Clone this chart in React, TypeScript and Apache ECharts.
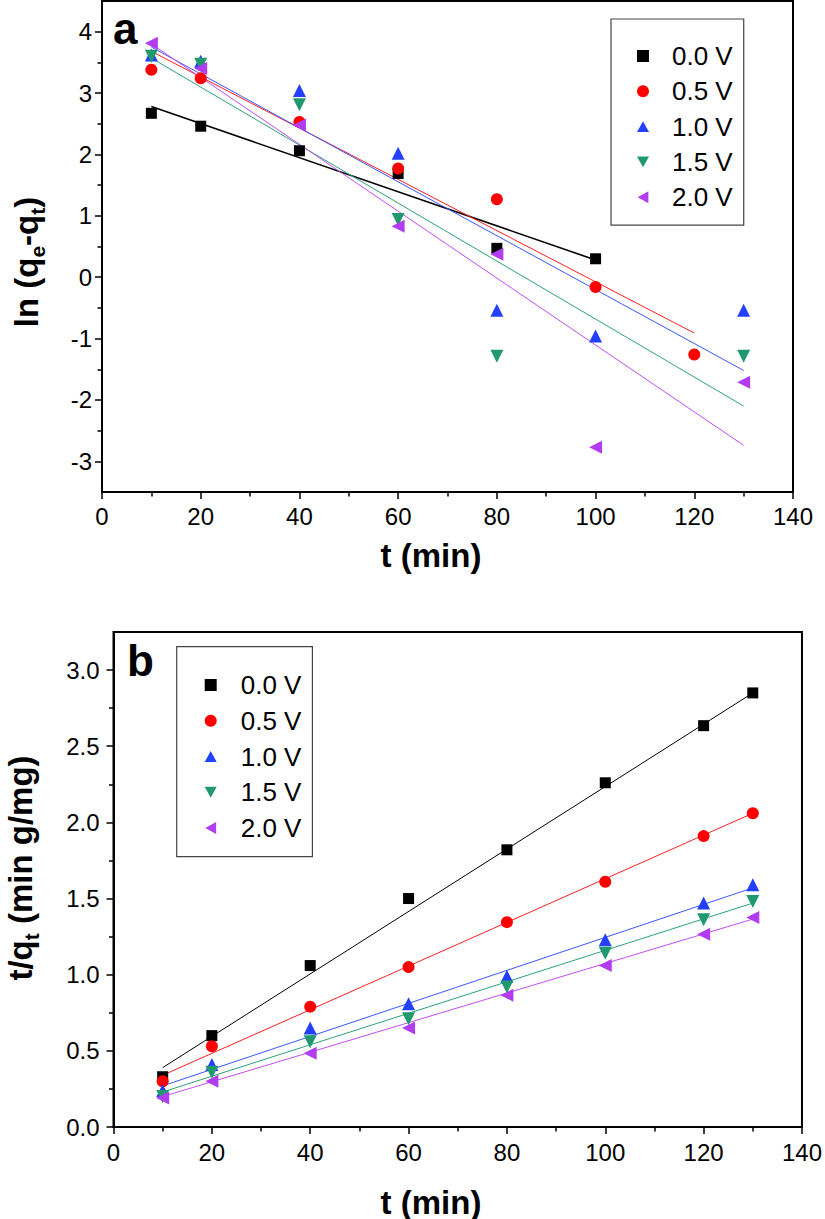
import React, { useEffect, useRef } from 'react';
import * as echarts from 'echarts';

// ---------- data ----------
const seriesNames = ['0.0 V', '0.5 V', '1.0 V', '1.5 V', '2.0 V'];
const timeMin = [10, 20, 40, 60, 80, 100, 120, 130];

// panel a: ln(qe - qt)
const lnA_00 = [2.67, 2.46, 2.06, 1.69, 0.47, 0.3, null, null];
const lnA_05 = [3.38, 3.24, 2.53, 1.77, 1.27, -0.16, -1.26, null];
const lnA_10 = [3.62, 3.52, 3.04, 2.02, -0.54, -0.96, null, -0.54];
const lnA_15 = [3.6, 3.47, 2.81, 0.94, -1.29, null, null, -1.29];
const lnA_20 = [3.81, 3.4, 2.48, 0.83, 0.375, -2.77, null, -1.71];

// panel a: fitted lines (end points)
const fitA_00 = [[10, 2.78], [100, 0.28]];
const fitA_05 = [[10, 3.68], [120, -0.91]];
const fitA_10 = [[10, 3.75], [130, -1.52]];
const fitA_15 = [[10, 3.57], [130, -2.1]];
const fitA_20 = [[10, 3.8], [130, -2.74]];

// panel b: t/qt
const tqB_00 = [0.33, 0.6, 1.06, 1.5, 1.82, 2.26, 2.635, 2.85];
const tqB_05 = [0.3, 0.53, 0.79, 1.05, 1.345, 1.61, 1.91, 2.06];
const tqB_10 = [0.24, 0.41, 0.65, 0.81, 0.99, 1.23, 1.47, 1.59];
const tqB_15 = [0.2, 0.36, 0.56, 0.71, 0.92, 1.14, 1.36, 1.48];
const tqB_20 = [0.19, 0.3, 0.484, 0.65, 0.865, 1.06, 1.265, 1.375];

// panel b: fitted lines (end points)
const fitB_00 = [[10, 0.39], [130, 2.85]];
const fitB_05 = [[10, 0.34], [130, 2.06]];
const fitB_10 = [[10, 0.27], [130, 1.57]];
const fitB_15 = [[10, 0.23], [130, 1.47]];
const fitB_20 = [[10, 0.2], [130, 1.365]];

// ticks
const xTickStep = 20;
const xRange = [0, 140];
const yRangeA = [-3.5, 4.5];
const yMajorA = [-3, -2, -1, 0, 1, 2, 3, 4];
const yMinorA = [-2.5, -1.5, -0.5, 0.5, 1.5, 2.5, 3.5];
const yRangeB = [0, 3.25];
const yMajorB = [0, 0.5, 1.0, 1.5, 2.0, 2.5, 3.0];
const yMinorB = [0.25, 0.75, 1.25, 1.75, 2.25, 2.75];

// ---------- styles ----------
const FONT = "'Liberation Sans', Arial, Helvetica, sans-serif";
const markerColors = ['#000000', '#ff0000', '#2340ff', '#20996f', '#b13cf2'];
const lineColors = ['#000000', '#ff2020', '#3a58ff', '#2fa27c', '#c24ef6'];
const symbols = ['rect', 'circle', 'triangle', 'triangle', 'triangle'];
const symbolRotations = [0, 0, 0, 180, 90];
const symbolSizes = [11, 12, 13, 13, 13];
const legendIcons = [
  'rect',
  'circle',
  'path://M5,0 L10,9 L0,9 Z',
  'path://M0,0 L10,0 L5,9 Z',
  'path://M9,0 L9,10 L0,5 Z',
];

const lnA = [lnA_00, lnA_05, lnA_10, lnA_15, lnA_20];
const fitA = [fitA_00, fitA_05, fitA_10, fitA_15, fitA_20];
const tqB = [tqB_00, tqB_05, tqB_10, tqB_15, tqB_20];
const fitB = [fitB_00, fitB_05, fitB_10, fitB_15, fitB_20];

function pairs(xs: number[], ys: (number | null)[]) {
  const out: number[][] = [];
  xs.forEach((x, i) => {
    const y = ys[i];
    if (y !== null && y !== undefined) out.push([x, y]);
  });
  return out;
}

const tickLine = { color: '#000', width: 1.5 };

function xAxisCfg(gridIndex: number, margin: number) {
  return {
    type: 'value',
    gridIndex,
    min: xRange[0],
    max: xRange[1],
    interval: xTickStep,
    position: 'bottom',
    axisLine: { show: true, onZero: false, lineStyle: { color: '#000', width: 2 } },
    axisTick: { show: true, inside: false, length: 7, lineStyle: tickLine },
    minorTick: { show: true, splitNumber: 2, length: 4.5, lineStyle: tickLine },
    axisLabel: { margin, color: '#000', fontSize: 24, fontFamily: FONT },
    splitLine: { show: false },
  };
}

function yAxisMain(gridIndex: number, range: number[], majors: number[], margin: number, fmt: (v: number) => string) {
  return {
    type: 'value',
    gridIndex,
    min: range[0],
    max: range[1],
    position: 'left',
    axisLine: { show: true, onZero: false, lineStyle: { color: '#000', width: 2 } },
    axisTick: { show: true, inside: false, length: 7, customValues: majors, lineStyle: tickLine },
    axisLabel: { margin, color: '#000', fontSize: 24, fontFamily: FONT, customValues: majors, formatter: fmt },
    splitLine: { show: false },
  };
}

function yAxisMinor(gridIndex: number, range: number[], minors: number[]) {
  return {
    type: 'value',
    gridIndex,
    min: range[0],
    max: range[1],
    position: 'left',
    offset: 0,
    axisLine: { show: false, onZero: false },
    axisTick: { show: true, inside: false, length: 4.5, customValues: minors, lineStyle: tickLine },
    axisLabel: { show: false },
    splitLine: { show: false },
  };
}

function panelSeries(xAxisIndex: number, yAxisIndex: number, ys: (number | null)[][], fits: number[][][], key: string, fitWidths: number[]) {
  const scatter = seriesNames.map((name, i) => ({
    type: 'scatter',
    name,
    xAxisIndex,
    yAxisIndex,
    data: pairs(timeMin, ys[i]),
    symbol: symbols[i],
    symbolSize: symbolSizes[i],
    symbolRotate: symbolRotations[i],
    itemStyle: { color: markerColors[i], opacity: 1 },
    z: 5,
    silent: true,
  }));
  const lines = seriesNames.map((name, i) => ({
    type: 'line',
    name: `${key} fit ${name}`,
    xAxisIndex,
    yAxisIndex,
    data: fits[i],
    showSymbol: false,
    symbol: 'none',
    lineStyle: { color: lineColors[i], width: fitWidths[i] },
    itemStyle: { color: lineColors[i] },
    z: 3,
    silent: true,
  }));
  return [...scatter, ...lines];
}

function legendCfg(left: number, top: number, padding: number[], itemGap: number, textPad: number) {
  return {
    show: true,
    orient: 'vertical',
    left,
    top,
    padding,
    itemGap,
    itemWidth: 12,
    itemHeight: 12,
    symbolKeepAspect: true,
    borderColor: '#444',
    borderWidth: 1.2,
    backgroundColor: 'transparent',
    selectedMode: false,
    textStyle: { fontSize: 26, lineHeight: 24, fontFamily: FONT, color: '#000', padding: [0, 0, 0, textPad] },
    data: seriesNames.map((name, i) => ({
      name,
      icon: legendIcons[i],
      itemStyle: { color: markerColors[i] },
    })),
  };
}

function richTitle(text: string) {
  return {
    text,
    align: 'center',
    textAlign: 'center',
    verticalAlign: 'middle',
    textVerticalAlign: 'middle',
    fill: '#000',
    rich: {
      m: { fontSize: 33, fontWeight: 'bold', fontFamily: FONT, fill: '#000', color: '#000', lineHeight: 44, verticalAlign: 'middle' },
      s: { fontSize: 21, fontWeight: 'bold', fontFamily: FONT, fill: '#000', color: '#000', lineHeight: 28, verticalAlign: 'bottom' },
    },
  };
}

function plainText(x: number, y: number, text: string, size: number, align: string) {
  return {
    type: 'text',
    x,
    y,
    silent: true,
    style: {
      text,
      fontSize: size,
      lineHeight: size,
      fontWeight: 'bold',
      fontFamily: FONT,
      fill: '#000',
      align,
      textAlign: align,
      verticalAlign: 'middle',
      textVerticalAlign: 'middle',
    },
  };
}

export default function App() {
  const ref = useRef<HTMLDivElement>(null);
  useEffect(() => {
    if (!ref.current) return;
    const chart = echarts.init(ref.current, undefined, { renderer: 'svg' });
    const option = {
      animation: false,
      backgroundColor: '#ffffff',
      grid: [
        { left: 102, top: 1, width: 691, height: 491, show: true, borderColor: '#000', borderWidth: 2, backgroundColor: 'transparent' },
        { left: 113.5, top: 632, width: 689.5, height: 495, show: true, borderColor: '#000', borderWidth: 2, backgroundColor: 'transparent' },
      ],
      xAxis: [xAxisCfg(0, 12), xAxisCfg(1, 13)],
      yAxis: [
        yAxisMain(0, yRangeA, yMajorA, 10, (v: number) => String(v)),
        yAxisMinor(0, yRangeA, yMinorA),
        yAxisMain(1, yRangeB, yMajorB, 14, (v: number) => v.toFixed(1)),
        yAxisMinor(1, yRangeB, yMinorB),
      ],
      legend: [
        legendCfg(611, 19, [24, 11, 15, 26], 9.3, 18),
        legendCfg(176.7, 646.7, [25.3, 11, 15.7, 28], 9.75, 19),
      ],
      tooltip: { show: false },
      series: [
        ...panelSeries(0, 0, lnA, fitA, 'a', [1.6, 1, 1, 1, 1]),
        ...panelSeries(1, 2, tqB, fitB, 'b', [1, 1, 1, 1, 1]),
      ],
      graphic: [
        plainText(113, 28, 'a', 44, 'left'),
        plainText(127, 660, 'b', 44, 'left'),
        plainText(431, 555, 't (min)', 33, 'center'),
        plainText(431, 1202, 't (min)', 33, 'center'),
        {
          type: 'text',
          x: 26,
          y: 262,
          rotation: Math.PI / 2,
          silent: true,
          style: richTitle('{m|ln (q}{s|e}{m|-q}{s|t}{m|)}'),
        },
        {
          type: 'text',
          x: 20,
          y: 868,
          rotation: Math.PI / 2,
          silent: true,
          style: richTitle('{m|t/q}{s|t}{m| (min g/mg)}'),
        },
      ],
    };
    chart.setOption(option as any);
    return () => chart.dispose();
  }, []);
  return (
    <div
      ref={ref}
      style={{ position: 'absolute', left: 0, top: 0, width: 825, height: 1219, background: '#fff' }}
    />
  );
}
